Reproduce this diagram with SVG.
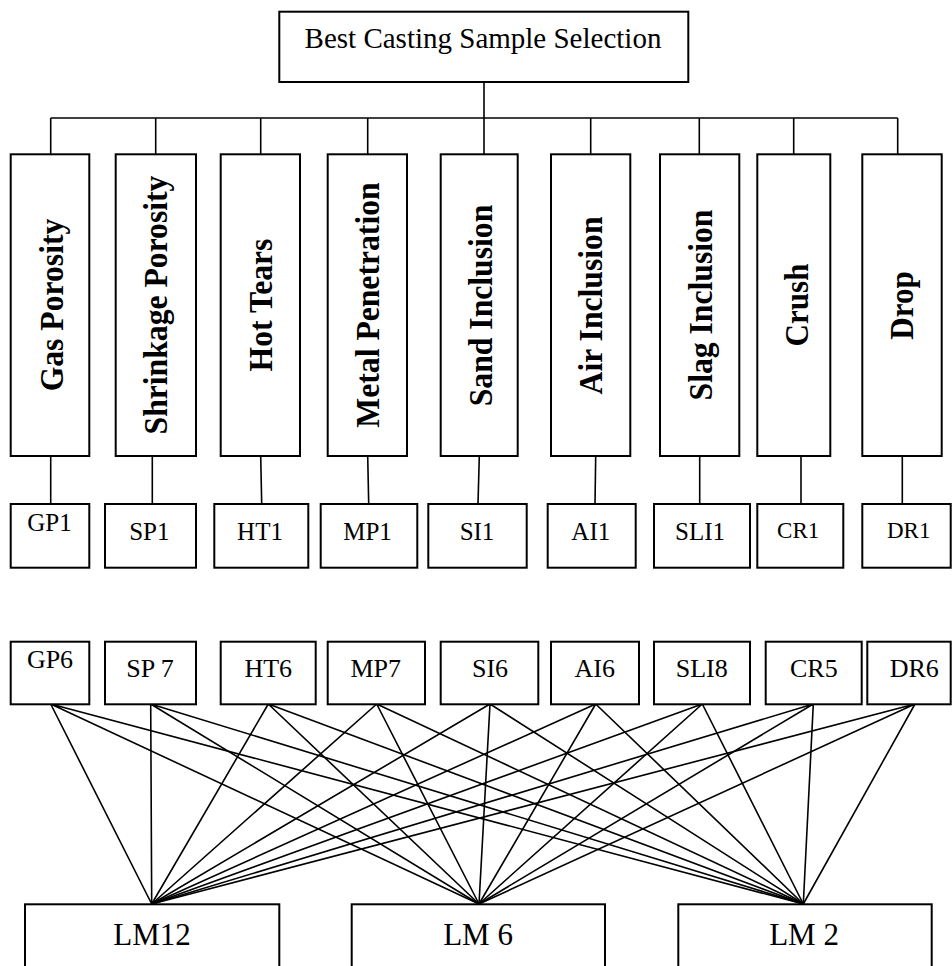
<svg xmlns="http://www.w3.org/2000/svg" width="952" height="966" viewBox="0 0 952 966">
<style>
rect{fill:#fff;stroke:#000;stroke-width:2}
line,path{stroke:#000;stroke-width:1.6;fill:none}
text{font-family:"Liberation Serif","Times New Roman",serif;fill:#000;text-anchor:middle}
.v{font-weight:bold;font-size:32px}
.r1{font-size:25px}
.r1s{font-size:23px}
.r2{font-size:26px}
.lm{font-size:31px}
</style>
<rect width="952" height="966" style="stroke:none;fill:#fff"/>
<g id="connectors">
<line x1="484" y1="82" x2="484" y2="118"/>
<line x1="50.7" y1="118" x2="897.7" y2="118"/>
<line x1="50.7" y1="118" x2="50.7" y2="154"/>
<line x1="155.7" y1="118" x2="155.7" y2="154"/>
<line x1="260.7" y1="118" x2="260.7" y2="154"/>
<line x1="367.7" y1="118" x2="367.7" y2="154"/>
<line x1="484" y1="118" x2="484" y2="154"/>
<line x1="590.7" y1="118" x2="590.7" y2="154"/>
<line x1="699.3" y1="118" x2="699.3" y2="154"/>
<line x1="793.7" y1="118" x2="793.7" y2="154"/>
<line x1="897.7" y1="118" x2="897.7" y2="154"/>
<line x1="50.7" y1="456" x2="50.7" y2="504"/>
<line x1="152.3" y1="456" x2="152.3" y2="504"/>
<line x1="260.7" y1="456" x2="261.7" y2="504"/>
<line x1="367.7" y1="456" x2="368.7" y2="504"/>
<line x1="479.3" y1="456" x2="478" y2="504"/>
<line x1="595.7" y1="456" x2="595" y2="504"/>
<line x1="699.7" y1="456" x2="699.7" y2="504"/>
<line x1="801" y1="456" x2="801" y2="504"/>
<line x1="902.3" y1="456" x2="902.3" y2="504"/>
<path d="M50.7 704L151.7 904M50.7 704L479 904M50.7 704L803.3 904"/>
<path d="M150.7 704L151.7 904M150.7 704L479 904M150.7 704L803.3 904"/>
<path d="M268.3 704L151.7 904M268.3 704L479 904M268.3 704L803.3 904"/>
<path d="M376.7 704L151.7 904M376.7 704L479 904M376.7 704L803.3 904"/>
<path d="M490 704L151.7 904M490 704L479 904M490 704L803.3 904"/>
<path d="M595.7 704L151.7 904M595.7 704L479 904M595.7 704L803.3 904"/>
<path d="M702.3 704L151.7 904M702.3 704L479 904M702.3 704L803.3 904"/>
<path d="M813.3 704L151.7 904M813.3 704L479 904M813.3 704L803.3 904"/>
<path d="M915 704L151.7 904M915 704L479 904M915 704L803.3 904"/>
</g>
<g id="root"><rect x="279.3" y="11.7" width="409" height="70.3"/><text x="483" y="48" style="font-size:29px">Best Casting Sample Selection</text></g>
<g id="gas-porosity"><rect x="10.7" y="154.3" width="78.6" height="301.7"/><text class="v" transform="translate(63,305) rotate(-90) scale(0.99,1.06)">Gas Porosity</text></g>
<g id="shrinkage-porosity"><rect x="115.7" y="154.3" width="80.3" height="301.7"/><text class="v" transform="translate(166.7,305) rotate(-90) scale(0.99,1.06)">Shrinkage Porosity</text></g>
<g id="hot-tears"><rect x="220.7" y="154.3" width="79.3" height="301.7"/><text class="v" transform="translate(271.7,305) rotate(-90) scale(0.99,1.06)">Hot Tears</text></g>
<g id="metal-penetration"><rect x="327.7" y="154.3" width="79.3" height="301.7"/><text class="v" transform="translate(379,305) rotate(-90) scale(0.99,1.06)">Metal Penetration</text></g>
<g id="sand-inclusion"><rect x="440.7" y="154.3" width="77" height="301.7"/><text class="v" transform="translate(491.7,305.5) rotate(-90) scale(0.99,1.06)">Sand Inclusion</text></g>
<g id="air-inclusion"><rect x="551" y="154.3" width="79.3" height="301.7"/><text class="v" transform="translate(601.7,305.5) rotate(-90) scale(0.99,1.06)">Air Inclusion</text></g>
<g id="slag-inclusion"><rect x="660" y="154.3" width="79.3" height="301.7"/><text class="v" transform="translate(711.7,305) rotate(-90) scale(0.99,1.06)">Slag Inclusion</text></g>
<g id="crush"><rect x="757.3" y="154.3" width="73" height="301.7"/><text class="v" transform="translate(808.3,305) rotate(-90) scale(0.97,1.06)">Crush</text></g>
<g id="drop"><rect x="862.3" y="154.3" width="79.4" height="301.7"/><text class="v" transform="translate(913.3,305.5) rotate(-90) scale(0.97,1.06)">Drop</text></g>
<g id="gp1"><rect x="10.7" y="504" width="78.6" height="63.7"/><text class="r1" x="49.5" y="530.7">GP1</text></g>
<g id="sp1"><rect x="105" y="504" width="91" height="63.7"/><text class="r1" x="149.3" y="540">SP1</text></g>
<g id="ht1"><rect x="214.3" y="504" width="94" height="63.7"/><text class="r1" x="260" y="540">HT1</text></g>
<g id="mp1"><rect x="320.7" y="504" width="96.6" height="63.7"/><text class="r1" x="367.5" y="540">MP1</text></g>
<g id="si1"><rect x="428.3" y="504" width="98.4" height="63.7"/><text class="r1" x="477" y="540">SI1</text></g>
<g id="ai1"><rect x="547.7" y="504" width="88" height="63.7"/><text class="r1" x="590.8" y="540">AI1</text></g>
<g id="sli1"><rect x="654" y="504" width="96" height="63.7"/><text class="r1" x="700" y="540">SLI1</text></g>
<g id="cr1"><rect x="757.3" y="504" width="86" height="63.7"/><text class="r1s" x="798.2" y="537.7">CR1</text></g>
<g id="dr1"><rect x="862.3" y="504" width="88.4" height="63.7"/><text class="r1s" x="908.7" y="537.7">DR1</text></g>
<g id="gp6"><rect x="10.7" y="641.7" width="78.6" height="62.6"/><text class="r2" x="50" y="668.3">GP6</text></g>
<g id="sp7"><rect x="105" y="641.7" width="91" height="62.6"/><text class="r2" x="150" y="676.7">SP 7</text></g>
<g id="ht6"><rect x="220.7" y="641.7" width="95" height="62.6"/><text class="r2" x="268.3" y="676.7">HT6</text></g>
<g id="mp7"><rect x="327.7" y="641.7" width="97.3" height="62.6"/><text class="r2" x="375.8" y="676.7">MP7</text></g>
<g id="si6"><rect x="440.7" y="641.7" width="97.6" height="62.6"/><text class="r2" x="490" y="676.7">SI6</text></g>
<g id="ai6"><rect x="551" y="641.7" width="88" height="62.6"/><text class="r2" x="594.7" y="676.7">AI6</text></g>
<g id="sli8"><rect x="654" y="641.7" width="96" height="62.6"/><text class="r2" x="701.7" y="676.7">SLI8</text></g>
<g id="cr5"><rect x="765.7" y="641.7" width="96" height="62.6"/><text class="r2" x="813.8" y="676.7">CR5</text></g>
<g id="dr6"><rect x="867.3" y="641.7" width="83.4" height="62.6"/><text class="r2" x="914.2" y="676.7">DR6</text></g>
<g id="lm12"><rect x="25" y="904.3" width="254.3" height="80"/><text class="lm" x="152" y="945">LM12</text></g>
<g id="lm6"><rect x="351.7" y="904.3" width="253.3" height="80"/><text class="lm" x="478" y="945">LM 6</text></g>
<g id="lm2"><rect x="678.3" y="904.3" width="253.4" height="80"/><text class="lm" x="804" y="945">LM 2</text></g>
</svg>
